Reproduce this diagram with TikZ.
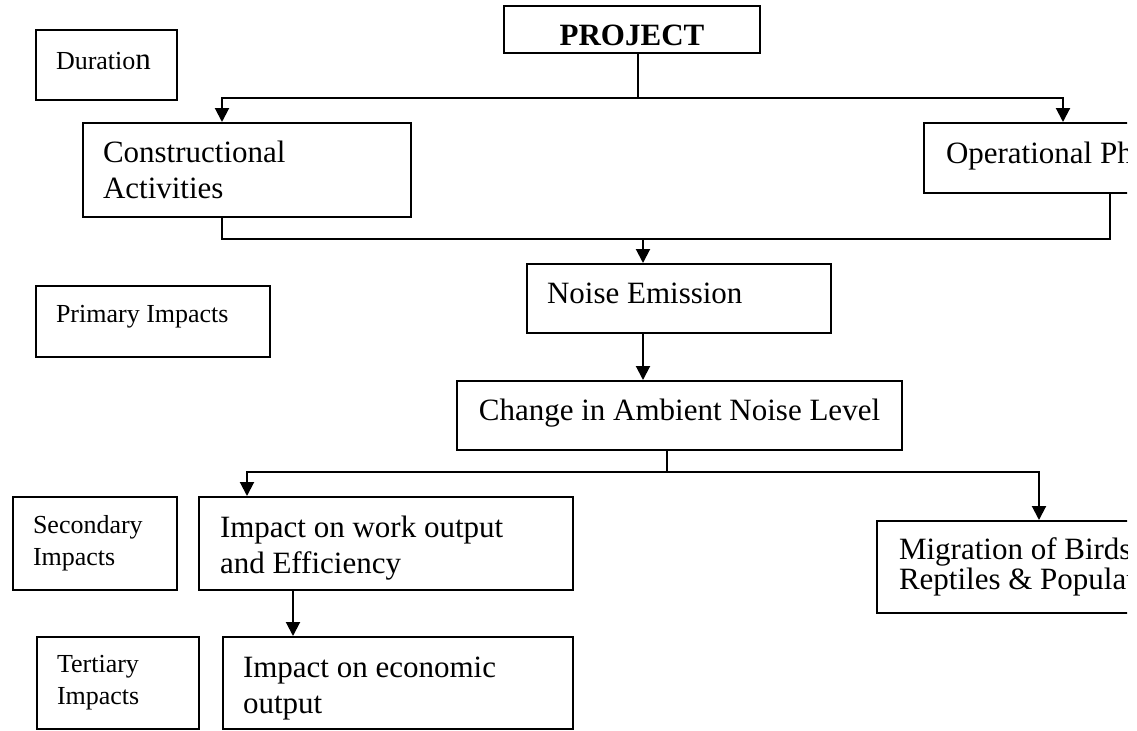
\documentclass[tikz,border=0pt]{standalone}
\usepackage{fontspec}
\setmainfont{Liberation Serif}
\usetikzlibrary{arrows.meta}

\newcommand{\smallfnt}{\fontsize{13}{16}\selectfont}
\newcommand{\bigfnt}{\fontsize{15.5}{18}\selectfont}

\begin{document}
\begin{tikzpicture}[x=0.5pt, y=-0.5pt, line width=1pt,
    box/.style={draw, rectangle, anchor=north west, align=flush left, inner xsep=10pt, inner ysep=0pt},
    small box/.style={box, font=\smallfnt},
    big box/.style={box, font=\bigfnt},
    arr/.style={-{Triangle[width=7pt,length=7pt]}}]
    \useasboundingbox (0,0) rectangle (1137,730);
    \begin{scope}
    \clip (0,0) rectangle (1127,730);

    % Project and the phases
    \node[box, font=\bigfnt\bfseries, align=center, minimum width=128pt, minimum height=23.5pt,
          text height=15.5pt, text depth=0pt] (proj) at (503,5) {PROJECT};
    \node[small box, text width=50.5pt, minimum height=35pt, text height=9pt, text depth=5pt] (dur) at (35,29) {Duratio{\bigfnt n}};
    \node[big box, text width=144pt, minimum height=47pt] (cons) at (82,122) {Constructional\\Activities};
    \node[big box, inner xsep=11pt, text width=118pt, minimum height=35pt,
          text height=10.5pt, text depth=5.5pt] (oper) at (923,122) {Operational Pha};

    % Primary impacts
    \node[small box, text width=97pt, minimum height=35.5pt, text height=9pt, text depth=8.5pt] (prim) at (35,285) {Primary Impacts};
    \node[big box, text width=132pt, minimum height=34.5pt, text height=10.5pt, text depth=6pt] (noise) at (526,263) {Noise Emission};
    \node[big box, align=center, minimum width=222.5pt, minimum height=34.5pt,
          text height=10.5pt, text depth=6pt] (change) at (456,380) {Change in Ambient Noise Level};

    % Secondary impacts
    \node[small box, text width=62pt, minimum height=46.5pt] (sec) at (12,496) {Secondary\\Impacts};
    \node[big box, inner xsep=10.5pt, text width=166pt, minimum height=46.5pt, text height=15.5pt] (work) at (198,496) {Impact on work output\\and Efficiency};
    \node[big box, inner xsep=11pt, text width=158pt, minimum height=46pt, font=\fontsize{15.5}{13.5}\selectfont] (mig) at (876,520) {Migration of Birds\\Reptiles \& Populati};

    % Tertiary impacts
    \node[small box, text width=61pt, minimum height=46pt] (ter) at (36,636) {Tertiary\\Impacts};
    \node[big box, text width=155pt, minimum height=46pt, text height=15.5pt] (econ) at (222,636) {Impact on economic\\output};

    % branch points
    \coordinate (topbus) at (638,98);
    \coordinate (midbus) at (643,239);
    \coordinate (lowbus) at (667,472);
    \coordinate (cin) at (222,0);
    \coordinate (oin) at (1063,0);
    \coordinate (oout) at (1110,0);
    \coordinate (win) at (247,0);
    \coordinate (min) at (1039,0);
    \coordinate (ein) at (293,0);

    % connectors
    \draw (topbus |- proj.south) -- (topbus);
    \draw[arr] (topbus) -| (cin |- cons.north);
    \draw[arr] (topbus) -| (oin |- oper.north);
    \draw (cin |- cons.south) |- (midbus) -| (oout |- oper.south);
    \draw[arr] (midbus) -- (midbus |- noise.north);
    \draw[arr] (midbus |- noise.south) -- (midbus |- change.north);
    \draw (lowbus |- change.south) -- (lowbus);
    \draw[arr] (lowbus) -| (win |- work.north);
    \draw[arr] (lowbus) -| (min |- mig.north);
    \draw[arr] (ein |- work.south) -- (ein |- econ.north);
    \end{scope}
\end{tikzpicture}
\end{document}
